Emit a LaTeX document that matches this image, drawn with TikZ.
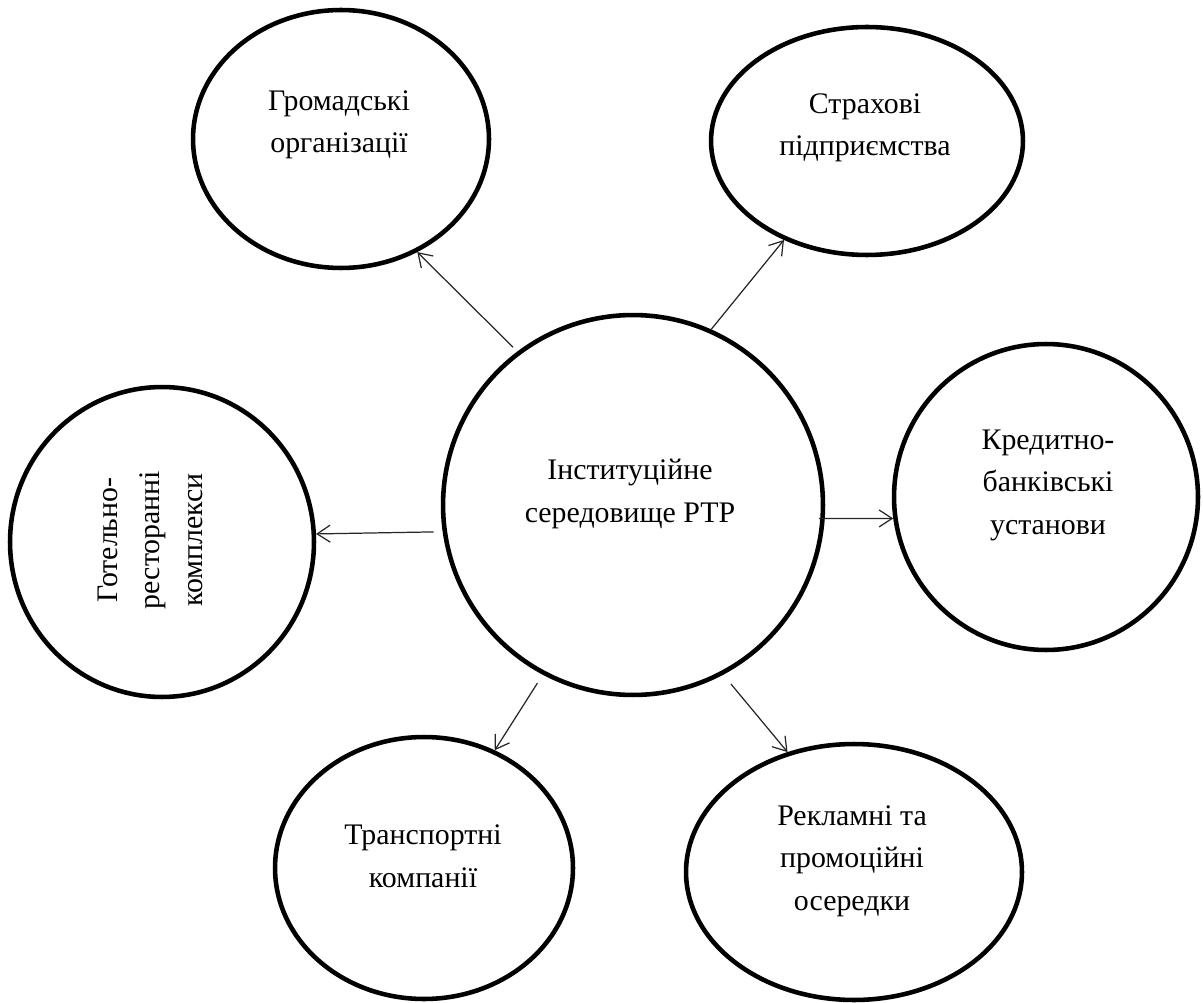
\documentclass[tikz,border=0pt]{standalone}
\usepackage{fontspec}
\setmainfont{Liberation Serif}
\usetikzlibrary{arrows.meta,positioning,shapes}

\begin{document}
\begin{tikzpicture}[x=0.02cm,y=-0.02cm]
	\tikzstyle{circ_lg}
	  =[draw, circle, line width=2.6pt, minimum size=7.6cm, inner sep=0pt]
	\tikzstyle{ell}
	  =[draw, ellipse, line width=2.6pt, inner sep=0pt]
	\tikzstyle{txt}
	  =[align=center, inner sep=0pt, font=\fontsize{17}{24.2}\selectfont]
	\tikzstyle{conn}
	  =[-{Straight Barb[length=2.6mm,width=3.4mm]}, line width=0.7pt, black!85]

	\useasboundingbox (0,0) rectangle (1203,1003);

	\node[circ_lg] (centre)
	  at (633,505) {};
	\node[txt] (centre_txt)
	  at (630,494) {Інституційне\\середовище РТР};

	\node[ell, minimum width=5.92cm, minimum height=5.16cm] (gromad)
	  at (341,139) {};
	\node[txt] (gromad_txt)
	  at (339,125) {Громадські\\організації};

	\node[ell, minimum width=6.24cm, minimum height=4.56cm] (strakh)
	  at (867,141) {};
	\node[txt] (strakh_txt)
	  at (865,128) {Страхові\\підприємства};

	\node[ell, minimum width=6.08cm, minimum height=6.12cm] (kredyt)
	  at (1046,497) {};
	\node[txt] (kredyt_txt)
	  at (1048,485) {Кредитно-\\банківські\\установи};

	\node[ell, minimum width=6.08cm, minimum height=6.2cm] (hotel)
	  at (162,542) {};
	\node[txt, rotate=90] (hotel_txt)
	  at (150,540) {Готельно-\\ресторанні\\комплекси};

	\node[ell, minimum width=5.96cm, minimum height=5.24cm] (transport)
	  at (424,868) {};
	\node[txt] (transport_txt)
	  at (423,856) {Транспортні\\компанії};

	\node[ell, minimum width=6.72cm, minimum height=5.12cm] (reklam)
	  at (854,872) {};
	\node[txt] (reklam_txt)
	  at (852,861) {Рекламні та\\промоційні\\осередки};

	\draw[conn, shorten <=0.12cm] (centre.127.7)--(gromad.-56.5);
	\draw[conn] (centre.66.3)--(strakh.230);
	\draw[conn, shorten <=-0.12cm] (centre.-4.7)--(kredyt.188.8);
	\draw[conn, shorten <=0.18cm] (centre.188)--(hotel.3.3);
	\draw[conn, shorten <=0.2cm] (centre.242.9)--(transport.59.7);
	\draw[conn, shorten <=0.24cm] (centre.-62.2)--(reklam.119.5);
\end{tikzpicture}
\end{document}
